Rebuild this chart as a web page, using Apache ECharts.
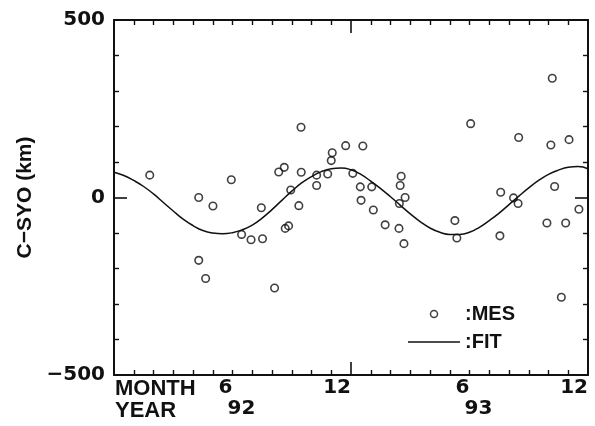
<!DOCTYPE html>
<html>
<head>
<meta charset="utf-8">
<style>
  html, body { margin: 0; padding: 0; background: #fff; }
  #chart { width: 595px; height: 426px; }
</style>
<script src="https://cdn.jsdelivr.net/npm/echarts@6/dist/echarts.min.js"></script>
</head>
<body>
<div id="chart"></div>
<script>
// Measured C-SYO offsets (km), by month counted from the start of 1992
const mesMonth = [
  1.81, 4.29, 5.01, 5.94, 4.29, 4.64, 9.47, 11.73, 11.05, 11.0,
  8.62, 8.34, 9.48, 10.26, 10.82, 12.09, 10.26, 8.95, 7.46, 9.36,
  6.46, 6.94, 7.52, 8.67, 8.84, 8.13, 12.6, 12.47, 13.05, 12.51,
  13.13, 13.73, 14.43, 14.68, 14.54, 14.49, 14.74, 14.45, 17.26, 17.36,
  18.06, 22.19, 20.49, 22.12, 23.04, 19.58, 20.23, 20.46, 22.31, 23.54,
  21.92, 22.87, 19.54, 22.65
];
const mesValue = [
  63, 0, -24, 50, -177, -228, 198, 146, 126, 104,
  85, 72, 71, 63, 66, 68, 34, 21, -29, -23,
  -104, -119, -116, -87, -80, -255, 145, 30, 30, -8,
  -35, -77, -87, -130, 60, 34, 0, -17, -65, -114,
  208, 336, 169, 148, 163, 15, -1, -17, 31, -33,
  -72, -72, -108, -281
];

// Fitted annual curve, sampled every half month
const fitMonth = [
  0, 0.5, 1, 1.5, 2, 2.5, 3, 3.5, 4, 4.5, 5, 5.5, 6, 6.5, 7, 7.5, 8, 8.5,
  9, 9.5, 10, 10.5, 11, 11.5, 12, 12.5, 13, 13.5, 14, 14.5, 15, 15.5, 16, 16.5,
  17, 17.5, 18, 18.5, 19, 19.5, 20, 20.5, 21, 21.5, 22, 22.5, 23, 23.5, 24
];
const fitValue = [
  71, 62, 48, 31, 10, -14, -38, -61, -79, -93, -100, -102, -99, -91, -78, -58, -34, -8,
  18, 41, 59, 73, 81, 83, 78, 65, 46, 25, 2, -22, -46, -68, -86, -98,
  -104, -104, -98, -84, -65, -44, -20, 4, 27, 48, 65, 77, 85, 87, 81
];

// Tick labels, one per 6-month step
const monthLabels = ['', '6', '12', '6', '12'];
const yearLabels = ['', '92', '', '93', ''];

const INK = '#111';
const NUM_FONT = 'DejaVu Sans';
const WORD_FONT = 'Liberation Sans';

const frameLine = { show: true, onZero: false, lineStyle: { color: INK, width: 2 } };
const majorTick = { show: true, inside: true, length: 13, lineStyle: { color: INK, width: 1.6 } };
function minor(n) {
  return { show: true, splitNumber: n, length: 5, lineStyle: { color: INK, width: 1.4 } };
}

const chart = echarts.init(document.getElementById('chart'), null, { renderer: 'canvas' });

const scatterData = mesMonth.map((m, i) => [m, mesValue[i]]);
const fitData = fitMonth.map((m, i) => [m, fitValue[i]]);

const frameX = (pos) => ({
  type: 'value', position: pos, min: 0, max: 24, interval: 12,
  axisLine: frameLine, axisTick: majorTick, minorTick: minor(12),
  axisLabel: { show: false }, splitLine: { show: false }
});
const frameY = (pos, labels) => ({
  type: 'value', position: pos, min: -500, max: 500, interval: 500,
  axisLine: frameLine, axisTick: majorTick, minorTick: minor(5),
  splitLine: { show: false },
  axisLabel: labels ? {
    show: true, margin: 9, color: INK,
    fontFamily: NUM_FONT, fontWeight: 'bold', fontSize: 20,
    formatter: (v) => String(v).replace('-', '\u2212')
  } : { show: false }
});

chart.setOption({
  animation: false,
  backgroundColor: '#fff',
  grid: { left: 114, right: 7, top: 20, bottom: 51, containLabel: false },
  xAxis: [
    frameX('bottom'),
    frameX('top'),
    {
      type: 'value', position: 'bottom', offset: 0, min: 0, max: 24, interval: 6,
      axisLine: { show: false }, axisTick: { show: false }, splitLine: { show: false },
      axisLabel: {
        show: true, margin: 3, align: 'right', color: INK,
        fontFamily: NUM_FONT, fontWeight: 'bold', fontSize: 20,
        formatter: (v) => monthLabels[Math.round(v / 6)]
      }
    },
    {
      type: 'value', position: 'bottom', offset: 22, min: 0, max: 24, interval: 6,
      axisLine: { show: false }, axisTick: { show: false }, splitLine: { show: false },
      axisLabel: {
        show: true, margin: 2, align: 'center', color: INK,
        fontFamily: NUM_FONT, fontWeight: 'bold', fontSize: 20,
        formatter: (v) => {
          const t = yearLabels[Math.round(v / 6)];
          return t ? '{y|' + t + '}' : '';
        },
        rich: { y: { padding: [0, 0, 0, 18], fontFamily: NUM_FONT, fontWeight: 'bold', fontSize: 20, color: INK } }
      }
    }
  ],
  yAxis: [
    Object.assign(frameY('left', true), {
      name: 'C\u2212SYO (km)', nameLocation: 'middle', nameRotate: 90, nameGap: 78,
      nameTextStyle: { fontFamily: WORD_FONT, fontWeight: 'bold', fontSize: 21, color: INK }
    }),
    frameY('right', false)
  ],
  legend: {
    orient: 'vertical', left: 403, top: 299,
    itemWidth: 52, itemHeight: 7, itemGap: 8,
    textStyle: { fontFamily: WORD_FONT, fontWeight: 'bold', fontSize: 20, color: INK },
    data: [
      { name: ':MES', icon: 'circle', itemStyle: { color: 'rgba(0,0,0,0)', borderColor: INK, borderWidth: 1.5 } },
      { name: ':FIT', icon: 'path://M0,0 L100,0 L100,3 L0,3 Z', itemStyle: { color: INK, borderWidth: 0 } }
    ]
  },
  graphic: [
    { type: 'text', left: 115, top: 378, style: { text: 'MONTH', fill: INK, font: 'bold 22px "Liberation Sans"' } },
    { type: 'text', left: 115, top: 400, style: { text: 'YEAR', fill: INK, font: 'bold 22px "Liberation Sans"' } }
  ],
  series: [
    {
      name: ':FIT', type: 'line', xAxisIndex: 0, yAxisIndex: 0,
      data: fitData, smooth: true, symbol: 'none',
      itemStyle: { color: INK },
      lineStyle: { color: INK, width: 1.5 }, z: 2
    },
    {
      name: ':MES', type: 'scatter', xAxisIndex: 0, yAxisIndex: 0,
      data: scatterData, symbol: 'circle', symbolSize: 7.5,
      itemStyle: { color: 'rgba(0,0,0,0)', borderColor: INK, borderWidth: 1.6 }, z: 3
    }
  ]
});
</script>
</body>
</html>
